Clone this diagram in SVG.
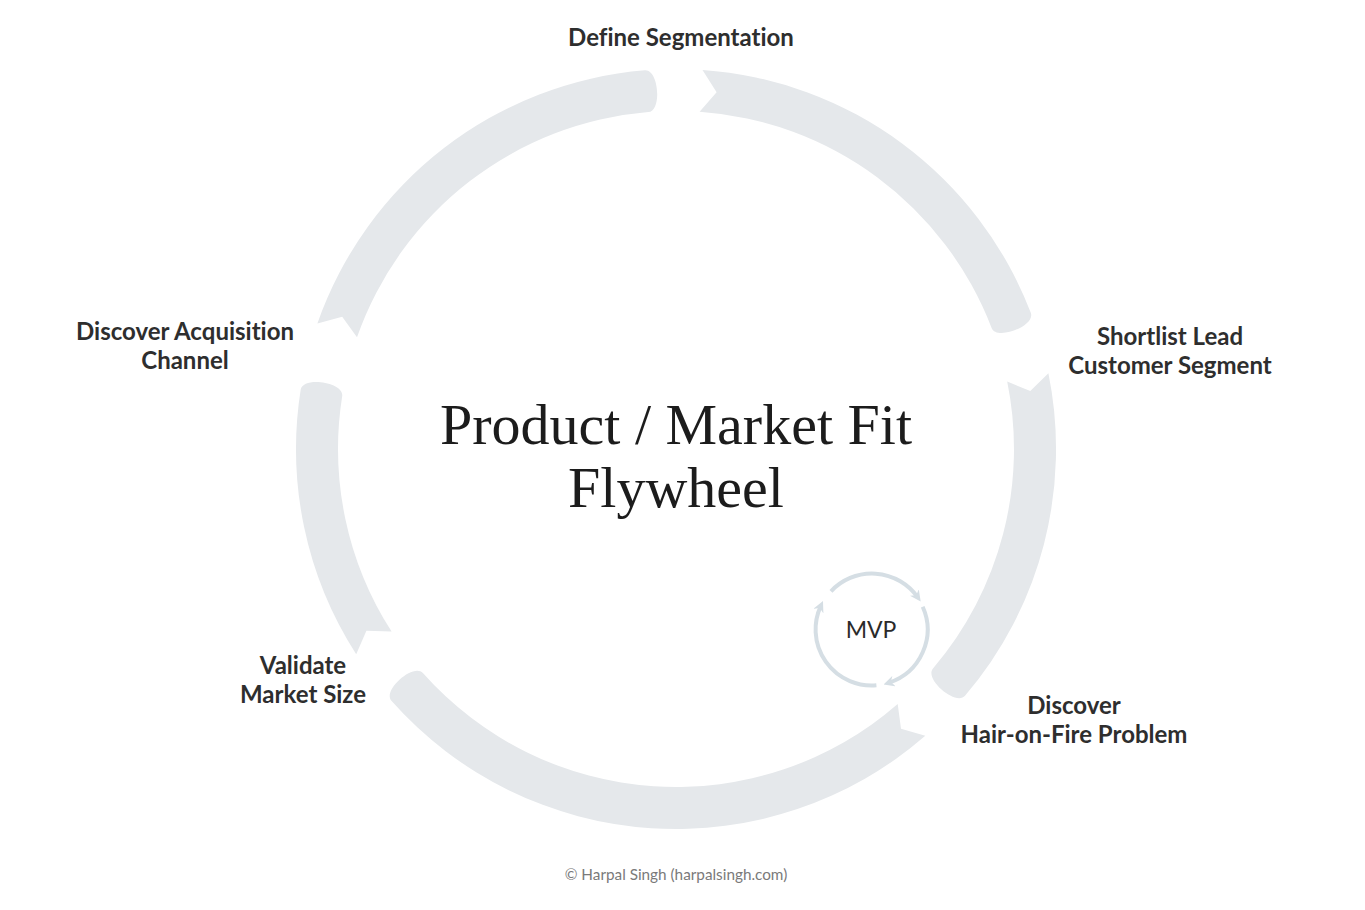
<svg xmlns="http://www.w3.org/2000/svg" width="1365" height="910" viewBox="0 0 1365 910">
  <defs>
    <style>
      .seg { fill: #e5e8eb; stroke: none; }
      .lbl { font-family: Lato, "Liberation Sans", sans-serif; font-weight: 700; font-size: 24px; fill: #2e2e2e; text-anchor: middle; font-variant-ligatures: none; }
      .title { font-family: "Liberation Serif", serif; font-size: 58px; fill: #1c1c1c; text-anchor: middle; }
      .mvp-arc { fill: none; stroke: #d5dee4; stroke-width: 4; }
      .mvp-txt { font-family: Lato, "Liberation Sans", sans-serif; font-size: 23px; fill: #2a2a2a; text-anchor: middle; }
      .copy { font-family: Lato, "Liberation Sans", sans-serif; font-size: 15.3px; fill: #7a7a7a; text-anchor: middle; }
    </style>
    <marker id="mvpHead" viewBox="0 0 10 10" refX="5" refY="5" markerWidth="11" markerHeight="11" markerUnits="userSpaceOnUse" orient="auto">
      <path d="M0,0 L10,5 L0,10 L3,5 z" fill="#d5dee4"/>
    </marker>
  </defs>
  <rect width="1365" height="910" fill="#ffffff"/>

  <g id="connectors">
    <path id="seg1" class="seg" d="M702.5,69.9 A380,380 0 0 1 1030.8,312.8 C1035.8,325.9 996.6,341.0 991.6,327.9 A338,338 0 0 0 699.6,111.8 L716.6,92.3 Z"/>
    <path id="seg2" class="seg" d="M1048.4,373.2 A380,380 0 0 1 965.0,695.8 C955.9,706.4 923.9,679.2 933.0,668.5 A338,338 0 0 0 1007.2,381.6 L1030.3,391.0 Z"/>
    <path id="seg3" class="seg" d="M925.3,735.8 A380,380 0 0 1 391.4,700.8 C382.1,690.3 413.6,662.5 422.9,673.0 A338,338 0 0 0 897.7,704.1 L901.0,728.8 Z"/>
    <path id="seg4" class="seg" d="M356.2,654.3 A380,380 0 0 1 300.7,389.6 C302.9,375.8 344.4,382.3 342.2,396.1 A338,338 0 0 0 391.6,631.6 L366.4,630.7 Z"/>
    <path id="seg5" class="seg" d="M317.4,323.4 A380,380 0 0 1 644.9,70.3 C658.8,69.2 662.3,111.0 648.3,112.1 A338,338 0 0 0 357.0,337.3 L342.2,316.8 Z"/>
  </g>

  <g id="title">
    <text class="title" x="676" y="444">Product / Market Fit</text>
    <text class="title" x="676" y="507">Flywheel</text>
  </g>

  <g id="node-define">
    <text class="lbl" x="681" y="46">Define Segmentation</text>
  </g>
  <g id="node-shortlist">
    <text class="lbl" x="1170" y="345">Shortlist Lead</text>
    <text class="lbl" x="1170" y="374">Customer Segment</text>
  </g>
  <g id="node-discover-problem">
    <text class="lbl" x="1074" y="714">Discover</text>
    <text class="lbl" x="1074" y="743">Hair-on-Fire Problem</text>
  </g>
  <g id="node-validate">
    <text class="lbl" x="303" y="674">Validate</text>
    <text class="lbl" x="303" y="703">Market Size</text>
  </g>
  <g id="node-acquisition">
    <text class="lbl" x="185" y="340">Discover Acquisition</text>
    <text class="lbl" x="185" y="369">Channel</text>
  </g>

  <g id="node-mvp">
    <path class="mvp-arc" d="M831.0,591.3 A56,56 0 0 1 917.5,597.0" marker-end="url(#mvpHead)"/>
    <path class="mvp-arc" d="M922.7,606.7 A56,56 0 0 1 888.8,682.8" marker-end="url(#mvpHead)"/>
    <path class="mvp-arc" d="M876.4,685.3 A56,56 0 0 1 820.7,606.1" marker-end="url(#mvpHead)"/>
    <text class="mvp-txt" x="871" y="638">MVP</text>
  </g>

  <g id="footer">
    <text class="copy" x="676" y="880">© Harpal Singh (harpalsingh.com)</text>
  </g>
</svg>
